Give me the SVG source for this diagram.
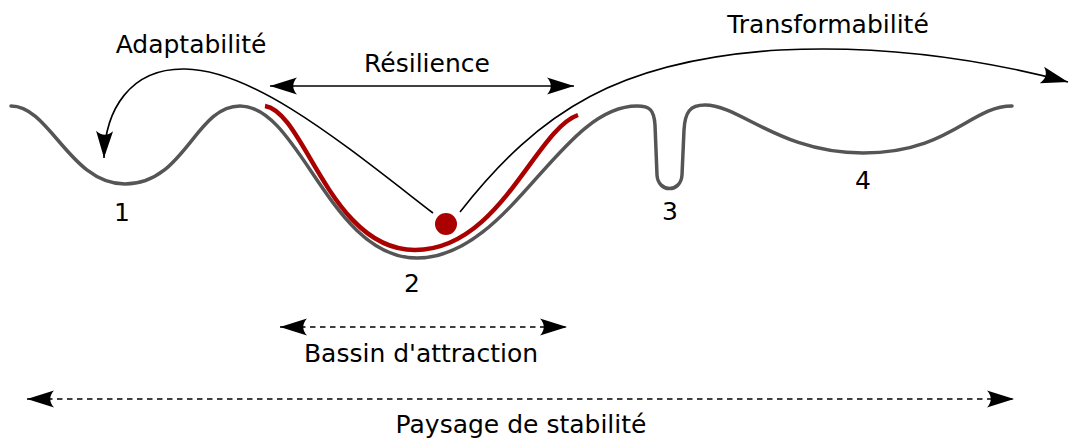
<svg xmlns="http://www.w3.org/2000/svg" width="1072" height="438" viewBox="0 0 1072 438">
<style>
  text { font-family: "DejaVu Sans", Verdana, sans-serif; font-size: 25px; fill: #000; text-anchor: middle; }
  .land { fill: none; stroke: #555555; stroke-width: 3.5; stroke-linecap: round; stroke-linejoin: round; }
  .basin { fill: none; stroke: #aa0000; stroke-width: 4.5; }
  .conn { fill: none; stroke: #000; stroke-width: 1.6; }
  .dash { stroke-dasharray: 5.5,4.5; }
</style>
<defs>
  <marker id="ah" markerUnits="userSpaceOnUse" markerWidth="30" markerHeight="20" viewBox="-28 -10 30 20" refX="0" refY="0" orient="auto-start-reverse">
    <path d="M0,0 L-27,-8.5 C-22,-3 -22,3 -27,8.5 Z" fill="#000"/>
  </marker>
</defs>
<g id="landscape">
  <path class="land" d="M11,106 C50,106 70,184 125,184 C185,184 195,106 240,106 C300,106 330,258 417,258 C510,258 560,106 637,106 C650,106 654,110 655,125 L657,175 C658,193 681,193 682,175 L684,130 C685,112 690,105 705,105 C740,105 780,153 863,153 C950,153 970,106 1012,106"/>
</g>
<g id="basin">
  <path class="basin" d="M265,106 C305,112 330,250 415,250 C500,250 535,130 578,115"/>
</g>
<g id="ball">
  <circle cx="446" cy="224" r="11" fill="#aa0000"/>
</g>
<g id="connectors">
  <path class="conn" d="M433,213 C345,145 255,70 185,69 C130,68 105,110 104,158" marker-end="url(#ah)"/>
  <path class="conn" d="M460,212 C540,110 620,60 780,50 C900,44 1000,64 1068,82" marker-end="url(#ah)"/>
  <path class="conn" d="M270,86 L574,86" marker-start="url(#ah)" marker-end="url(#ah)"/>
  <path class="conn dash" d="M280,327 L567,327" marker-start="url(#ah)" marker-end="url(#ah)"/>
  <path class="conn dash" d="M27,399 L1014,399" marker-start="url(#ah)" marker-end="url(#ah)"/>
</g>
<g id="labels">
  <text x="191" y="53">Adaptabilité</text>
  <text x="427" y="72">Résilience</text>
  <text x="828" y="33">Transformabilité</text>
  <text x="122" y="221">1</text>
  <text x="412" y="292">2</text>
  <text x="670" y="220">3</text>
  <text x="863" y="189">4</text>
  <text x="421" y="362">Bassin d'attraction</text>
  <text x="521" y="433">Paysage de stabilité</text>
</g>
</svg>
